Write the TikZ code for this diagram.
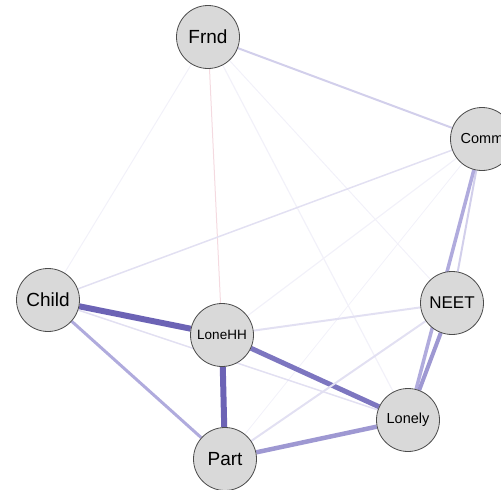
\documentclass[tikz,border=0pt]{standalone}
\usepackage{fontspec}
\setmainfont{Liberation Sans}
\usetikzlibrary{backgrounds}
\definecolor{strong}{RGB}{108,99,181}
\definecolor{mid}{RGB}{125,118,192}
\definecolor{medium}{RGB}{158,152,210}
\definecolor{lightish}{RGB}{176,171,221}
\definecolor{light}{RGB}{210,207,235}
\definecolor{pale}{RGB}{226,224,242}
\definecolor{faint}{RGB}{242,241,249}
\definecolor{pinkish}{RGB}{244,218,224}
\definecolor{nodefill}{RGB}{217,217,217}

\begin{document}
\begin{tikzpicture}[x=1pt,y=-1pt,
		var/.style={circle,draw=black!70,fill=nodefill,minimum size=63pt,inner sep=0pt,line width=0.8pt},
		big/.style={font=\fontsize{19}{19}\selectfont},
		small/.style={font=\fontsize{14.5}{14.5}\selectfont},
		wide/.style={font=\fontsize{17}{17}\selectfont}]
		\useasboundingbox (0,0) rectangle (501,490);
		% variables
		\node[var,big] (frnd) at (208,37) {Frnd};
		\node[var,small] (comm) at (482,139) {Comm};
		\node[var,big] (child) at (48,300) {Child};
		\node[var,font=\fontsize{13.5}{13.5}\selectfont] (lonehh) at (222,335) {LoneHH};
		\node[var,wide] (neet) at (452,303) {NEET};
		\node[var,small] (lonely) at (408,420) {Lonely};
		\node[var,big] (part) at (225,459) {Part};
		% edges
		\begin{scope}[on background layer]
		\draw[faint,line width=1pt] (frnd) -- (child);
		\draw[pinkish,line width=1pt] (frnd) -- (lonehh);
		\draw[faint,line width=1.2pt] (frnd) -- (lonely);
		\draw[faint,line width=1pt] (frnd) -- (neet);
		\draw[light,line width=2pt] (frnd) -- (comm);
		\draw[pale,line width=1.5pt] (comm) -- (child);
		\draw[faint,line width=1.2pt] (comm) -- (lonehh);
		\draw[faint,line width=0.8pt] (comm) -- (part);
		\draw[light,line width=2pt] (comm) -- (neet);
		\draw[lightish,line width=3.5pt] (comm) -- (lonely);
		\draw[strong,line width=6pt] (child) -- (lonehh);
		\draw[lightish,line width=3pt] (child) -- (part);
		\draw[pale,line width=1.5pt] (child) -- (lonely);
		\draw[pale,line width=2pt] (lonehh) -- (neet);
		\draw[mid,line width=5pt] (lonehh) -- (lonely);
		\draw[strong,line width=6pt] (lonehh) -- (part);
		\draw[pale,line width=2pt] (part) -- (neet);
		\draw[medium,line width=4.5pt] (part) -- (lonely);
		\draw[medium,line width=4pt] (neet) -- (lonely);
		\end{scope}
\end{tikzpicture}
\end{document}
